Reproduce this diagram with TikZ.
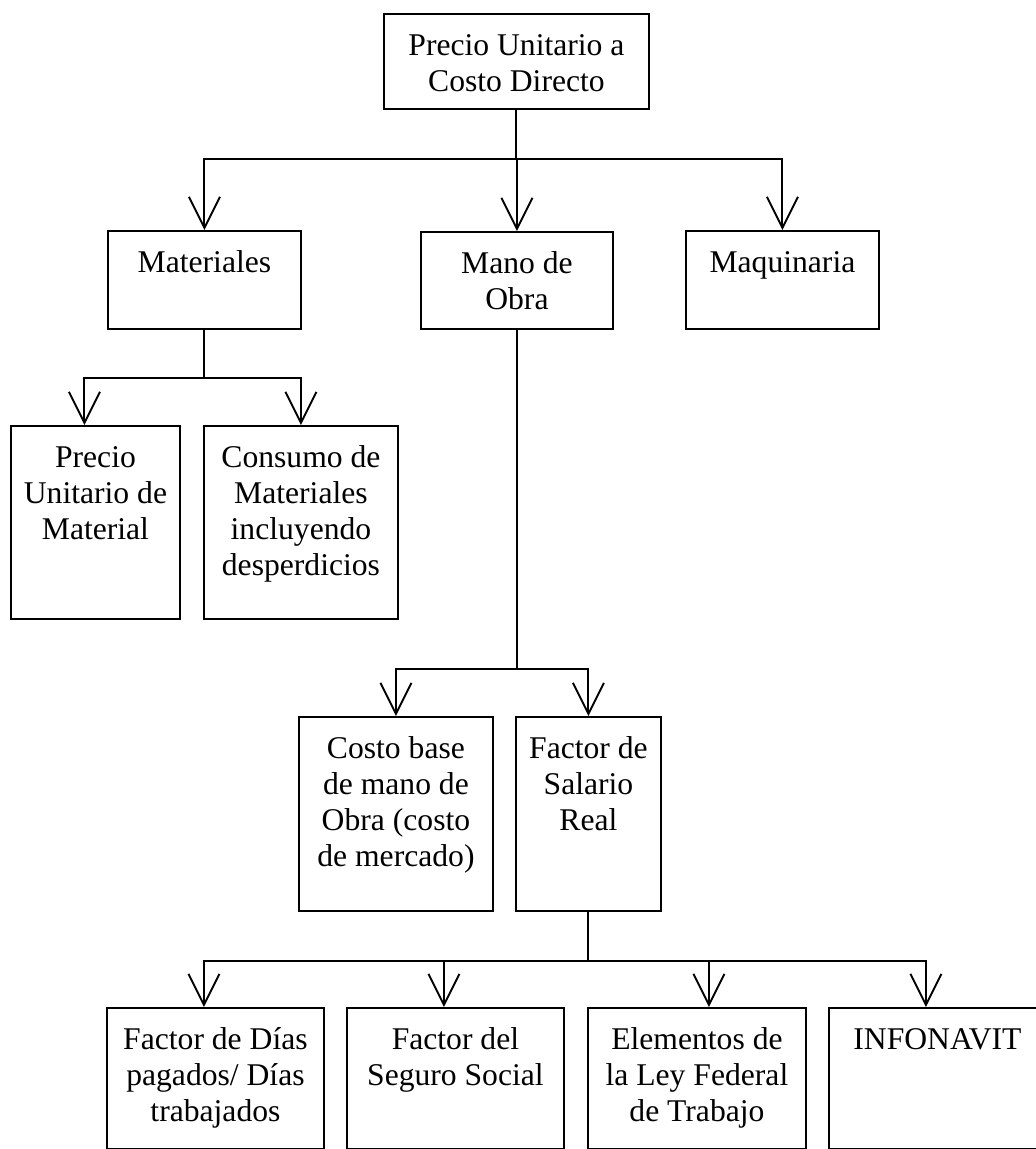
\documentclass[tikz,border=0pt]{standalone}
\usepackage{fontspec}
\setmainfont{Liberation Serif}
\usetikzlibrary{arrows.meta}

\tikzset{
  box/.style={draw, line width=1.1pt, inner sep=0pt, anchor=north west,
    font=\fontsize{18}{20.5}\selectfont},
  link/.style={line width=1.1pt},
}
% box contents: width, height, text (set from the top)
\newcommand{\cell}[3]{\parbox[c][#2][t]{#1}{\centering\rule{0pt}{23.5pt}#3}}

\begin{document}
\begin{tikzpicture}[x=0.02cm, y=-0.02cm, >={Straight Barb[length=0.62cm, width=0.62cm]}]
\useasboundingbox (0,0) rectangle (1035,1149);

% Top node
\node (top) [box] at (383,13) {\cell{5.3cm}{1.9cm}{Precio Unitario a\\Costo Directo}};

% First level
\node (mat) [box] at (107,230) {\cell{3.86cm}{1.96cm}{Materiales}};
\node (mano) [box] at (420,231) {\cell{3.84cm}{1.94cm}{Mano de\\Obra}};
\node (maq) [box] at (685,230) {\cell{3.86cm}{1.96cm}{Maquinaria}};

% Materials
\node (pum) [box] at (10,425) {\cell{3.38cm}{3.86cm}{Precio\\Unitario de\\Material}};
\node (cons) [box] at (203,425) {\cell{3.88cm}{3.86cm}{Consumo de\\Materiales\\incluyendo\\desperdicios}};

% Labour
\node (costo) [box] at (298,716) {\cell{3.88cm}{3.88cm}{Costo base\\de mano de\\Obra (costo\\de mercado)}};
\node (fsr) [box] at (515,716) {\cell{2.9cm}{3.88cm}{Factor de\\Salario\\Real}};

% Salary factor
\node (b1) [box] at (106,1007) {\cell{4.34cm}{2.82cm}{Factor de Días\\pagados/ Días\\trabajados}};
\node (b2) [box] at (346,1007) {\cell{4.34cm}{2.82cm}{Factor del\\Seguro Social}};
\node (b3) [box] at (587,1007) {\cell{4.36cm}{2.82cm}{Elementos de\\la Ley Federal\\de Trabajo}};
\node (b4) [box] at (828,1007) {\cell{4.34cm}{2.82cm}{INFONAVIT}};

% Arrows
\draw[link] (top.south) -- ++(0,49) coordinate (j0);
\draw[link,->] (j0) -| (mat.north);
\draw[link,->] (j0) -| (mano.north);
\draw[link,->] (j0) -| (maq.north);

\draw[link] (mat.south) -- ++(0,48) coordinate (j1);
\draw[link,->] (j1) -| ([xshift=-0.22cm]pum.north);
\draw[link,->] (j1) -| (cons.north);

\draw[link] (mano.south) -- ++(0,339) coordinate (j2);
\draw[link,->] (j2) -| (costo.north);
\draw[link,->] (j2) -| (fsr.north);

\draw[link] (fsr.south) -- ++(0,49) coordinate (j3);
\draw[link,->] (j3) -| ([xshift=-0.23cm]b1.north);
\draw[link,->] (j3) -| ([xshift=-0.23cm]b2.north);
\draw[link,->] (j3) -| ([xshift=0.24cm]b3.north);
\draw[link,->] (j3) -| ([xshift=-0.23cm]b4.north);
\end{tikzpicture}
\end{document}
